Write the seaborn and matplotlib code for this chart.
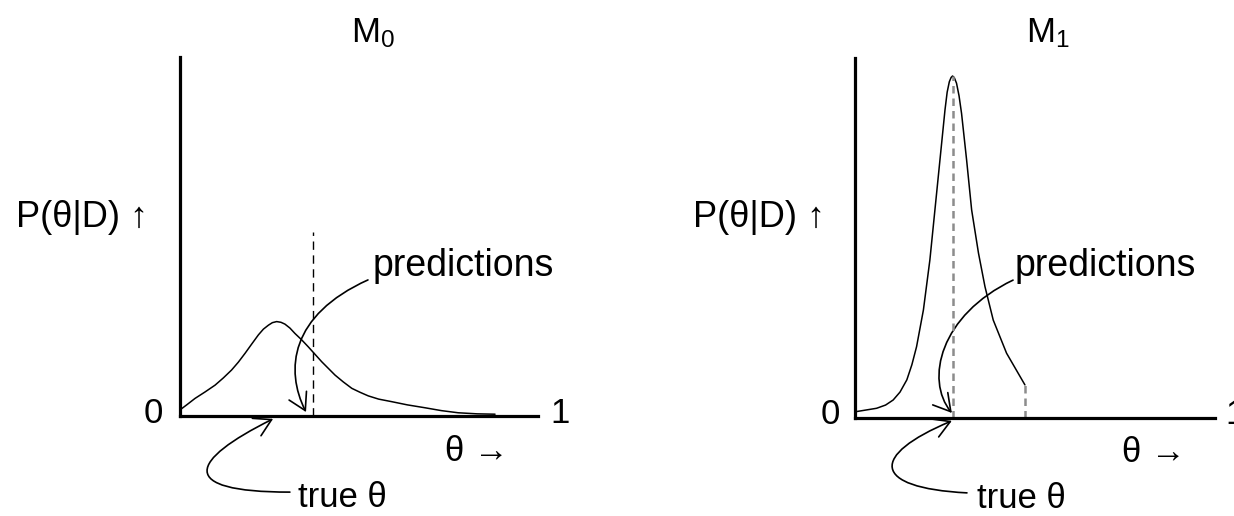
import numpy as np
import pandas as pd
import matplotlib
matplotlib.use("Agg")
import matplotlib.pyplot as plt
from matplotlib.patches import FancyArrowPatch
from matplotlib.path import Path
import seaborn as sns

# posterior curves (theta on [0, 1], height as fraction of axis)
m0_theta = [0.000, 0.020, 0.042, 0.070, 0.098, 0.121, 0.144, 0.163, 0.182, 0.200,
            0.219, 0.233, 0.247, 0.258, 0.270, 0.282, 0.293, 0.307, 0.321, 0.340,
            0.358, 0.396, 0.415, 0.433, 0.456, 0.480, 0.503, 0.526, 0.555, 0.591,
            0.635, 0.684, 0.730, 0.777, 0.830, 0.880]
m0_post = [0.017, 0.032, 0.049, 0.067, 0.086, 0.106, 0.128, 0.150, 0.175, 0.200,
           0.226, 0.242, 0.253, 0.260, 0.263, 0.261, 0.256, 0.245, 0.230, 0.212,
           0.193, 0.151, 0.132, 0.114, 0.095, 0.077, 0.066, 0.056, 0.047, 0.040,
           0.031, 0.023, 0.015, 0.009, 0.006, 0.005]

m1_theta = [0.000, 0.005, 0.060, 0.085, 0.106, 0.125, 0.144, 0.158, 0.171, 0.190,
            0.208, 0.222, 0.236, 0.250, 0.256, 0.262, 0.267, 0.271, 0.276, 0.282,
            0.289, 0.296, 0.310, 0.324, 0.343, 0.361, 0.384, 0.421, 0.472]
m1_post = [0.016, 0.018, 0.027, 0.036, 0.050, 0.072, 0.106, 0.148, 0.198, 0.300,
           0.439, 0.578, 0.717, 0.856, 0.905, 0.934, 0.946, 0.950, 0.945, 0.930,
           0.895, 0.846, 0.717, 0.578, 0.458, 0.365, 0.272, 0.180, 0.092]

# dashed "prediction" markers: (theta, height)
m0_pred = [(0.372, 0.513)]
m1_pred = [(0.271, 0.950), (0.472, 0.092)]

titles = ["M_0", "M_1"]
ylabel = "P(\u03b8|D) \u2191"
xlabel = "\u03b8 \u2192"

sns.set_style("white")
plt.rcParams["font.family"] = ["Liberation Sans", "DejaVu Sans"]
plt.rcParams["mathtext.fontset"] = "custom"
plt.rcParams["mathtext.rm"] = "Liberation Sans"
plt.rcParams["mathtext.it"] = "Liberation Sans"
plt.rcParams["text.color"] = "black"

W, H = 1234, 516
fig = plt.figure(figsize=(W / 100, H / 100), dpi=100)


def px_axes(x0, y_bottom, x1, y_top):
    return fig.add_axes([x0 / W, 1 - y_bottom / H, (x1 - x0) / W, (y_bottom - y_top) / H])


def curved_arrow(ax, pts):
    codes = [Path.MOVETO, Path.CURVE4, Path.CURVE4, Path.CURVE4]
    arr = FancyArrowPatch(path=Path(pts, codes),
                          arrowstyle="->,head_length=0.6,head_width=0.35",
                          mutation_scale=20, lw=1.2, color="black",
                          transform=ax.transData, clip_on=False)
    ax.add_patch(arr)


def draw_panel(ax, theta, post, preds, title, pred_color, pred_lw, dashes, txt):
    df = pd.DataFrame({"theta": theta, "post": post})
    sns.lineplot(data=df, x="theta", y="post", ax=ax, color="black", lw=1.1,
                 sort=False, estimator=None)
    for t, h in preds:
        ax.plot([t, t], [0, h], color=pred_color, lw=pred_lw, dashes=dashes)
    ax.set_xlim(0, 1)
    ax.set_ylim(0, 1)
    ax.set_xticks([])
    ax.set_yticks([])
    ax.set_xlabel("")
    ax.set_ylabel("")
    sns.despine(ax=ax)
    for s in ["left", "bottom"]:
        ax.spines[s].set_linewidth(2.3)
        ax.spines[s].set_color("black")
    ax.patch.set_alpha(0)
    fs = 25
    ax.text(txt["title"][0], txt["title"][1], r"$\mathregular{%s}$" % title,
            ha="center", va="center", fontsize=fs, clip_on=False)
    ax.text(txt["ylab"][0], txt["ylab"][1], ylabel, ha="right", va="center", fontsize=fs + 1)
    ax.text(txt["zero"][0], txt["zero"][1], "0", ha="right", va="center", fontsize=fs)
    ax.text(txt["one"][0], txt["one"][1], "1", ha="left", va="center", fontsize=fs,
            clip_on=False)
    ax.text(txt["xlab"][0], txt["xlab"][1], xlabel, ha="left", va="center", fontsize=fs)
    ax.text(txt["pred"][0], txt["pred"][1], "predictions", ha="left", va="center",
            fontsize=fs + 2)
    ax.text(txt["true"][0], txt["true"][1], "true \u03b8", ha="left", va="center",
            fontsize=fs)


ax0 = px_axes(180, 416, 538, 57)
draw_panel(ax0, m0_theta, m0_post, m0_pred, titles[0], "black", 1.0, (6, 4),
           {"title": (0.539, 1.067), "ylab": (-0.089, 0.554), "zero": (-0.047, 0.008),
            "one": (1.034, 0.008), "xlab": (0.740, -0.100), "pred": (0.539, 0.418),
            "true": (0.330, -0.226)})
curved_arrow(ax0, [(0.525, 0.379), (0.307, 0.281), (0.293, 0.128), (0.352, 0.011)])
curved_arrow(ax0, [(0.307, -0.212), (-0.014, -0.212), (0.028, -0.123), (0.260, -0.008)])

ax1 = px_axes(855, 418, 1215, 58)
draw_panel(ax1, m1_theta, m1_post, m1_pred, titles[1], "#8c8c8c", 1.8, (3, 2),
           {"title": (0.536, 1.069), "ylab": (-0.083, 0.558), "zero": (-0.042, 0.011),
            "one": (1.028, 0.011), "xlab": (0.742, -0.097), "pred": (0.444, 0.422),
            "true": (0.339, -0.225)})
curved_arrow(ax1, [(0.439, 0.383), (0.236, 0.286), (0.194, 0.106), (0.269, 0.014)])
curved_arrow(ax1, [(0.311, -0.208), (0.042, -0.194), (0.042, -0.103), (0.269, -0.008)])

fig.savefig("out.png", dpi=100)
